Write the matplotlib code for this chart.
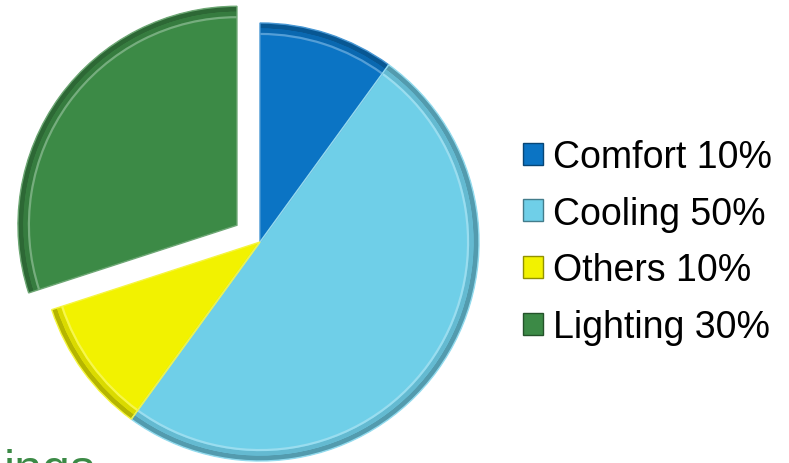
import matplotlib.pyplot as plt
from matplotlib.patches import Wedge, Rectangle
import matplotlib.colors as mcolors

# Data
labels = ['Comfort', 'Cooling', 'Others', 'Lighting']
shares = [10, 50, 10, 30]
colors = ['#0B74C4', '#6FCFE8', '#F2F200', '#3C8A46']
explode = [0, 0, 0, 0.13]

FONT = ['Liberation Sans', 'DejaVu Sans']
plt.rcParams['font.family'] = FONT

W, H = 789, 464
R = 219.0        # pie radius in px
CX, CY = 260, 243  # pie centre in px (from top)

fig = plt.figure(figsize=(W / 100, H / 100), dpi=100)
ax = fig.add_axes([0, 0, 1, 1])
ax.axis('off')

wedges, _ = ax.pie(shares, colors=colors, explode=explode, startangle=90,
                   counterclock=False, radius=1.0,
                   wedgeprops=dict(linewidth=0))
ax.set_aspect('auto')
ax.set_xlim(-CX / R, (W - CX) / R)
ax.set_ylim(-(H - CY) / R, CY / R)


def shade(c, f):
    r, g, b = mcolors.to_rgb(c)
    if f > 0:
        return (r + (1 - r) * f, g + (1 - g) * f, b + (1 - b) * f)
    return (r * (1 + f), g * (1 + f), b * (1 + f))


# simple bevel: darker rim fading inwards plus a light highlight line
for w, c in zip(wedges, colors):
    ax.add_patch(Wedge(w.center, w.r, w.theta1, w.theta2, width=0.025,
                       facecolor=shade(c, -0.25), linewidth=0, zorder=3))
    ax.add_patch(Wedge(w.center, w.r - 0.025, w.theta1, w.theta2, width=0.02,
                       facecolor=shade(c, -0.1), linewidth=0, zorder=3))
    ax.add_patch(Wedge(w.center, w.r - 0.045, w.theta1, w.theta2, width=0.01,
                       facecolor=shade(c, 0.3), linewidth=0, zorder=3))
    ax.add_patch(Wedge(w.center, w.r, w.theta1, w.theta2, fill=False,
                       edgecolor=shade(c, 0.25), linewidth=1.0, zorder=4))

# legend
handles = [Rectangle((0, 0), 1, 1, facecolor=c, edgecolor=shade(c, -0.4), linewidth=1)
           for c in colors]
leg_labels = [f'{l} {v}%' for l, v in zip(labels, shares)]
ax.legend(handles, leg_labels, loc='upper left', bbox_to_anchor=(523 / W, 1 - 140 / H),
          frameon=False, fontsize=27, handlelength=0.52, handleheight=0.52,
          handletextpad=0.28, labelspacing=0.55, borderaxespad=0, borderpad=0)

# partially visible title at bottom left
fig.text(0.004, -21 / H, 'ings', fontsize=36, color='#3C8A46', ha='left', va='baseline')

fig.savefig('out.png', dpi=100, facecolor='white')
